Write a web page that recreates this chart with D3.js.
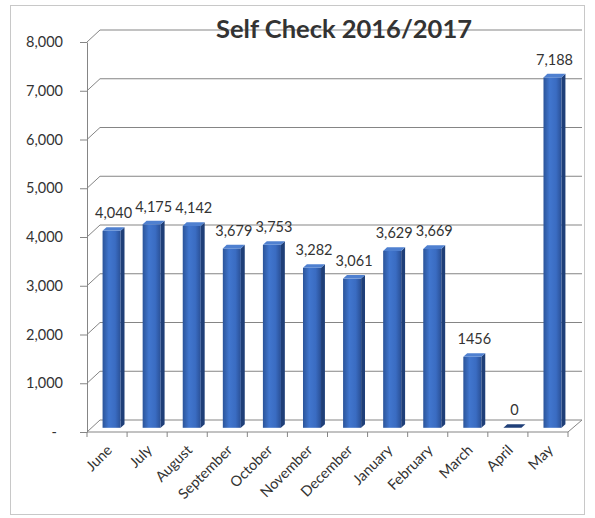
<!DOCTYPE html>
<html>
<head>
<meta charset="utf-8">
<script src="https://cdn.jsdelivr.net/npm/d3@7"></script>
<style>
  body { margin: 0; background: #fff; }
  text { font-family: Lato, "Open Sans", sans-serif; fill: #333; }
</style>
</head>
<body>
<div id="chart"></div>
<script>
// datos
const months = ["June", "July", "August", "September", "October", "November",
                "December", "January", "February", "March", "April", "May"];
const counts = [4040, 4175, 4142, 3679, 3753, 3282, 3061, 3629, 3669, 1456, 0, 7188];
const labels = ["4,040", "4,175", "4,142", "3,679", "3,753", "3,282",
                "3,061", "3,629", "3,669", "1456", "0", "7,188"];
const yTicks = [0, 1000, 2000, 3000, 4000, 5000, 6000, 7000, 8000];
const title = "Self Check 2016/2017";

const W = 595, H = 518;
const depth = { x: 13, y: -12 };   // profundidad del "3D"

const svg = d3.select("#chart").append("svg")
    .attr("width", W).attr("height", H);

// marco exterior
svg.append("rect")
    .attr("x", 10.5).attr("y", 5.5).attr("width", 574).attr("height", 509)
    .attr("fill", "#fff").attr("stroke", "#c8c8c8");

const x = d3.scaleBand().domain(months).range([87, 568]).padding(0);
const y = d3.scaleLinear().domain([0, 8000]).range([432, 42]);

// gradiente de las barras
const defs = svg.append("defs");
const grad = defs.append("linearGradient").attr("id", "barGrad")
    .attr("x1", "0%").attr("x2", "100%");
grad.append("stop").attr("offset", "0%").attr("stop-color", "#2b5499");
grad.append("stop").attr("offset", "35%").attr("stop-color", "#4176ce");
grad.append("stop").attr("offset", "70%").attr("stop-color", "#3a6cc2");
grad.append("stop").attr("offset", "100%").attr("stop-color", "#2a5096");

// lineas de la cuadricula (pared trasera)
svg.append("g").selectAll("path")
    .data(yTicks)
    .enter()
    .append("path")
    .attr("d", d => `M87,${y(d)} L${87 + depth.x},${y(d) + depth.y} L582,${y(d) + depth.y}`)
    .attr("fill", "none")
    .attr("stroke", "#858585")
    .attr("stroke-width", 1);

// suelo
svg.append("path")
    .attr("d", `M87,${y(0)} L568,${y(0)} L582,${y(0) + depth.y}`)
    .attr("fill", "none").attr("stroke", "#858585");

// eje y
const yAxis = d3.axisLeft(y)
    .tickValues(yTicks)
    .tickSize(7)
    .tickSizeOuter(0)
    .tickPadding(17)
    .tickFormat(d => d === 0 ? "-" : d3.format(",")(d));

const gy = svg.append("g").attr("transform", "translate(87,0)").call(yAxis);
gy.select(".domain").attr("stroke", "#858585");
gy.selectAll(".tick line").attr("stroke", "#858585");
gy.selectAll(".tick text")
    .style("font-size", "14.5px")
    .attr("fill", "#333")
    .attr("dx", d => d === 0 ? "-6" : "0");

// marcas del eje x en los limites de las categorias
svg.append("g").selectAll("line")
    .data(months.concat(["_end"]))
    .enter()
    .append("line")
    .attr("x1", (d, i) => 87 + i * x.bandwidth())
    .attr("x2", (d, i) => 87 + i * x.bandwidth())
    .attr("y1", y(0))
    .attr("y2", y(0) + 5)
    .attr("stroke", "#858585");

// barras
const bw = x.bandwidth() * 0.45;
const f = 0.35, b = 0.3;  // posicion de la cara frontal y grosor de la barra
const bars = svg.append("g").selectAll("g")
    .data(months.map((m, i) => ({ month: m, value: counts[i], label: labels[i] })))
    .enter()
    .append("g");

const fx = d => x(d.month) + x.bandwidth() / 2 - bw / 2 + depth.x * f;
const fy = d => y(d.value) + depth.y * f;
const by = y(0) + depth.y * f;
const ox = depth.x * b, oy = depth.y * b;

// lado derecho
bars.append("path")
    .attr("d", d => `M${fx(d) + bw},${fy(d)} L${fx(d) + bw + ox},${fy(d) + oy} L${fx(d) + bw + ox},${by + oy} L${fx(d) + bw},${by} Z`)
    .attr("fill", "#1f3f78");

// cara frontal
bars.append("rect")
    .attr("x", fx)
    .attr("y", fy)
    .attr("width", bw)
    .attr("height", d => Math.max(0, by - fy(d)))
    .attr("fill", "url(#barGrad)");

// cara superior
bars.append("path")
    .attr("d", d => `M${fx(d)},${fy(d)} L${fx(d) + ox},${fy(d) + oy} L${fx(d) + bw + ox},${fy(d) + oy} L${fx(d) + bw},${fy(d)} Z`)
    .attr("fill", d => d.value === 0 ? "#1f3f78" : "#4f80d0");

// etiquetas de valor
bars.append("text")
    .attr("x", d => fx(d) + bw / 2 + 2)
    .attr("y", d => fy(d) + oy - 9)
    .attr("text-anchor", "middle")
    .style("font-size", "14.5px")
    .text(d => d.label);

// etiquetas de mes
svg.append("g").selectAll("text")
    .data(months)
    .enter()
    .append("text")
    .attr("transform", d => `translate(${x(d) + x.bandwidth() / 2 + 6},${y(0) + 19}) rotate(-45)`)
    .attr("text-anchor", "end")
    .style("font-size", "14.5px")
    .text(d => d);

// titulo
svg.append("text")
    .attr("x", 344)
    .attr("y", 38)
    .attr("text-anchor", "middle")
    .style("font-size", "25.5px")
    .style("font-weight", "bold")
    .attr("fill", "#111")
    .text(title);
</script>
</body>
</html>
